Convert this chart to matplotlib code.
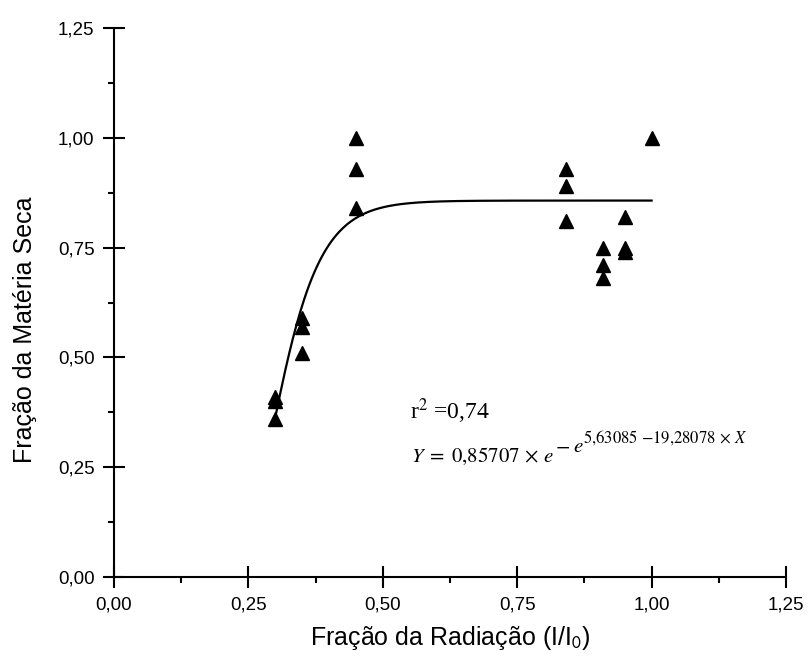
import matplotlib
matplotlib.use("Agg")
import matplotlib.pyplot as plt
import numpy as np
from matplotlib.ticker import MultipleLocator, FuncFormatter

plt.rcParams['font.family'] = ['Liberation Sans', 'DejaVu Sans']
plt.rcParams['mathtext.fontset'] = 'stix'

# measured points (fraction of radiation vs fraction of dry matter)
rad_frac = [0.30, 0.30, 0.30,
            0.35, 0.35, 0.35,
            0.45, 0.45, 0.45,
            0.84, 0.84, 0.84,
            0.91, 0.91, 0.91,
            0.95, 0.95, 0.95,
            1.00]
dry_frac = [0.41, 0.40, 0.36,
            0.59, 0.57, 0.51,
            1.00, 0.93, 0.84,
            0.93, 0.89, 0.81,
            0.75, 0.71, 0.68,
            0.82, 0.75, 0.74,
            1.00]

# Gompertz fit parameters shown on the chart
fit_a = 0.85707
fit_b = 5.63085
fit_c = 19.28078
fit_range = (0.30, 1.00)

W, H = 809, 662
fig = plt.figure(figsize=(W / 100, H / 100), dpi=100)
ax = fig.add_axes([114 / W, 1 - 577 / H, 672 / W, 549 / H])

xs = np.linspace(fit_range[0], fit_range[1], 300)
ys = fit_a * np.exp(-np.exp(fit_b - fit_c * xs))
ax.plot(xs, ys, color='black', lw=1.6, zorder=2)
ax.plot(rad_frac, dry_frac, linestyle='none', marker='^', color='black',
        markersize=10, zorder=3)

ax.set_xlim(0, 1.25)
ax.set_ylim(0, 1.25)
for s in ['top', 'right']:
    ax.spines[s].set_visible(False)
for s in ['left', 'bottom']:
    ax.spines[s].set_linewidth(1.5)

comma = FuncFormatter(lambda v, p: f"{v:.2f}".replace('.', ','))
for axis in (ax.xaxis, ax.yaxis):
    axis.set_major_locator(MultipleLocator(0.25))
    axis.set_minor_locator(MultipleLocator(0.125))
    axis.set_major_formatter(comma)
ax.tick_params(which='major', direction='inout', length=16, width=1.5,
               labelsize=13.5, pad=6)
ax.tick_params(which='minor', direction='out', length=4, width=1.5)

ax.set_xlabel('Fração da Radiação (I/I$_{\\mathsf{0}}$)', fontsize=18)
ax.set_ylabel('Fração da Matéria Seca', fontsize=18)
ax.xaxis.set_label_coords(0.5, -0.085)
ax.yaxis.set_label_coords(-0.115, 0.45)

def px(x, y):
    return x / W, 1 - y / H

fig.text(*px(410, 419), 'r$^{2}$ =0,74', family='Liberation Serif',
         fontsize=17, va='baseline')

# equation built from pieces, each placed after the previous one
renderer = fig.canvas.get_renderer()
pieces = [
    (r'$Y\;=\;0{,}85707\,\times\,e$', 15, 462, 0),
    (r'$-$', 15, 452, 1),
    (r'$e$', 15, 452, 3),
    (r'$5{,}63085\ {-}19{,}28078\,\times\,X$', 12, 443, -1),
]
x_cur = 411
for txt, size, base, gap in pieces:
    x_cur += gap
    t = fig.text(*px(x_cur, base), txt, fontsize=size, va='baseline')
    bb = t.get_window_extent(renderer)
    x_cur = bb.x1

fig.savefig('out.png', dpi=100)
